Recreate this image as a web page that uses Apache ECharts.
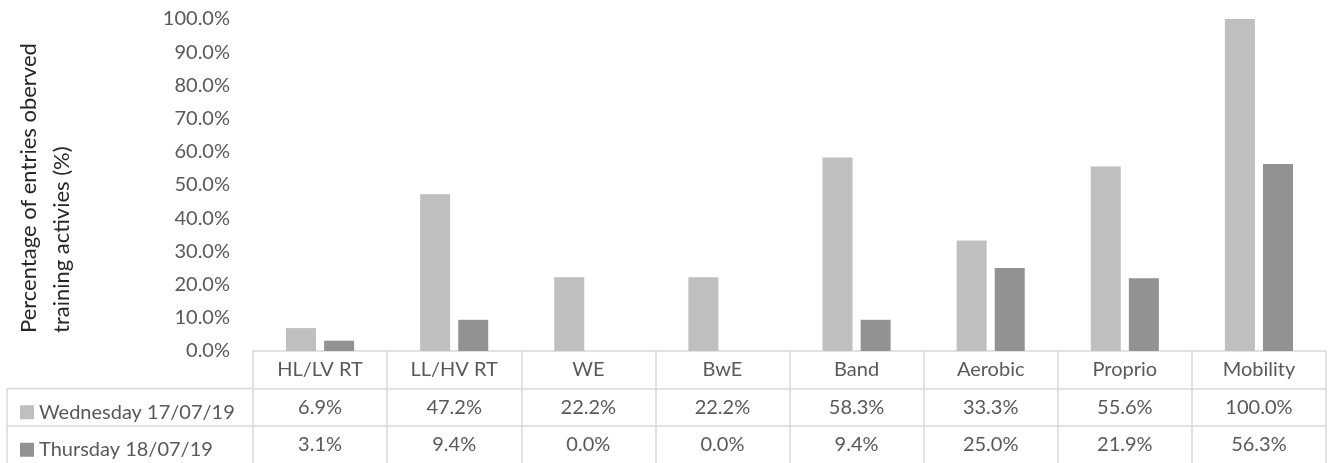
<!DOCTYPE html>
<html>
<head>
<meta charset="utf-8">
<script src="https://cdn.jsdelivr.net/npm/echarts@6/dist/echarts.min.js"></script>
<style>
html,body{margin:0;padding:0;background:#fff;}
#chart{width:1330px;height:463px;}
</style>
</head>
<body>
<div id="chart"></div>
<script>
var categories = ['HL/LV RT', 'LL/HV RT', 'WE', 'BwE', 'Band', 'Aerobic', 'Proprio', 'Mobility'];
var seriesNames = ['Wednesday 17/07/19', 'Thursday 18/07/19'];
var wednesday = [6.9, 47.2, 22.2, 22.2, 58.3, 33.3, 55.6, 100.0];
var thursday = [3.1, 9.4, 0.0, 0.0, 9.4, 25.0, 21.9, 56.3];
var yTicks = [0, 10, 20, 30, 40, 50, 60, 70, 80, 90, 100];
var axisTitle = ['Percentage of entries oberved', 'training activies (%)'];

var FONT = 'Lato';
var TXT = '#595959';
var LINE = '#D9D9D9';
var FS = 20;
var ROW = 37.5;

function pct(v) { return v.toFixed(1) + '%'; }

var chart = echarts.init(document.getElementById('chart'));
var baseAxis = {
  type: 'category',
  gridIndex: 0,
  position: 'bottom',
  data: categories,
  boundaryGap: true,
  axisLine: { show: true, lineStyle: { color: LINE, width: 1.5 } },
  axisTick: { show: false },
  splitLine: { show: false }
};
function legendFor(i) {
  return {
    orient: 'horizontal',
    left: 15,
    top: 351 + ROW * (i + 1) + ROW / 2 - 10,
    height: 20,
    icon: 'rect',
    itemWidth: 14,
    itemHeight: 14,
    selectedMode: false,
    textStyle: { color: TXT, fontSize: FS, fontFamily: FONT },
    data: [seriesNames[i]]
  };
}
var option = {
  animation: false,
  textStyle: { fontFamily: FONT },
  grid: { left: 253, right: 4, top: 19, bottom: 112, containLabel: false },
  legend: [legendFor(0), legendFor(1)],
  xAxis: [
    Object.assign({}, baseAxis, {
      offset: 0,
      axisTick: { show: true, interval: 0, length: 112, lineStyle: { color: LINE, width: 1.5 } },
      axisLabel: { interval: 0, color: TXT, fontSize: FS, fontFamily: FONT, margin: ROW / 2, verticalAlign: 'middle' }
    }),
    Object.assign({}, baseAxis, {
      offset: ROW,
      axisLabel: { interval: 0, color: TXT, fontSize: FS, fontFamily: FONT, margin: ROW / 2, verticalAlign: 'middle',
        formatter: function (v, i) { return pct(wednesday[i]); } }
    }),
    Object.assign({}, baseAxis, {
      offset: ROW * 2,
      axisLabel: { interval: 0, color: TXT, fontSize: FS, fontFamily: FONT, margin: ROW / 2, verticalAlign: 'middle',
        formatter: function (v, i) { return pct(thursday[i]); } }
    })
  ],
  yAxis: {
    type: 'value',
    min: yTicks[0],
    max: yTicks[yTicks.length - 1],
    interval: yTicks[1] - yTicks[0],
    axisLine: { show: false },
    axisTick: { show: false },
    splitLine: { show: false },
    axisLabel: { color: TXT, fontSize: FS, fontFamily: FONT, margin: 23, formatter: function (v) { return pct(v); } }
  },
  series: [
    { name: seriesNames[0], type: 'bar', xAxisIndex: 0, data: wednesday, barWidth: 30, barGap: '27%',
      itemStyle: { color: '#BFBFBF' } },
    { name: seriesNames[1], type: 'bar', xAxisIndex: 0, data: thursday, barWidth: 30, barGap: '27%',
      itemStyle: { color: '#929292' } }
  ],
  graphic: [
    { type: 'line', shape: { x1: 7, y1: 351 + ROW, x2: 253, y2: 351 + ROW }, style: { stroke: LINE, lineWidth: 1.5 } },
    { type: 'line', shape: { x1: 7, y1: 351 + ROW * 2, x2: 253, y2: 351 + ROW * 2 }, style: { stroke: LINE, lineWidth: 1.5 } },
    { type: 'line', shape: { x1: 7, y1: 351 + ROW, x2: 7, y2: 463 }, style: { stroke: LINE, lineWidth: 1.5 } },
    { type: 'text', x: 29, y: 333, rotation: Math.PI / 2,
      style: { text: axisTitle[0], fill: '#262626', font: '22px ' + FONT, textAlign: 'left', textVerticalAlign: 'middle' } },
    { type: 'text', x: 62, y: 333, rotation: Math.PI / 2,
      style: { text: axisTitle[1], fill: '#262626', font: '22px ' + FONT, textAlign: 'left', textVerticalAlign: 'middle' } }
  ]
};
chart.setOption(option);
</script>
</body>
</html>
